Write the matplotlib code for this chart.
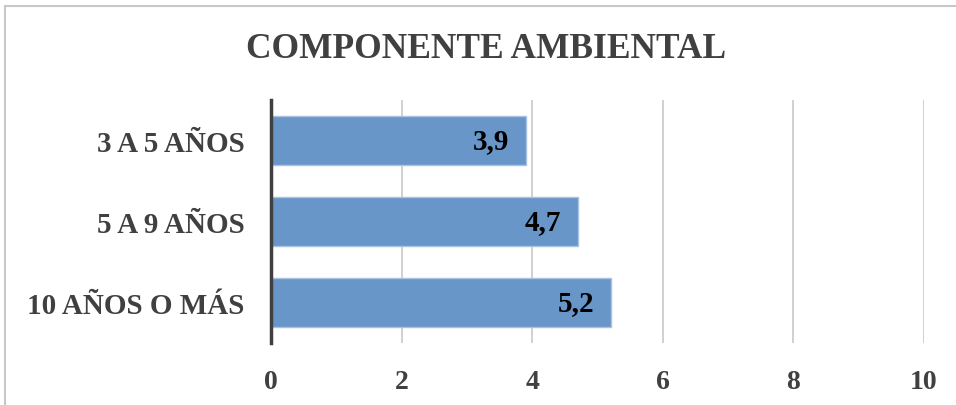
import matplotlib.pyplot as plt
from matplotlib.patches import Rectangle

categories = ["3 A 5 AÑOS", "5 A 9 AÑOS", "10 AÑOS O MÁS"]
values = [3.9, 4.7, 5.2]
value_labels = ["3,9", "4,7", "5,2"]
xticks = [0, 2, 4, 6, 8, 10]

plt.rcParams["font.family"] = ["Liberation Serif", "DejaVu Serif"]
plt.rcParams["font.weight"] = "bold"

fig = plt.figure(figsize=(9.56, 4.06), dpi=100)
ax = fig.add_axes([0.2835, 0.153, 0.683, 0.598])

y = list(range(len(categories)))
ax.barh(y, values, height=0.6, color="#6996C8", edgecolor="#a9c2e2", linewidth=1, zorder=3)
for yi, v, lab in zip(y, values, value_labels):
    ax.annotate(lab, (v, yi), xytext=(-12, 0), textcoords="offset points",
                ha="right", va="center", fontsize=21, fontweight="bold", color="black", zorder=4)

ax.set_xlim(0, 10)
ax.set_ylim(2.5, -0.5)
ax.set_xticks(xticks)
ax.set_xticklabels([str(t) for t in xticks], fontsize=20, fontweight="bold", color="#404040")
ax.set_yticks(y)
ax.set_yticklabels(categories, fontsize=21, fontweight="bold", color="#404040")
ax.tick_params(axis="both", length=0)
ax.tick_params(axis="x", pad=19)
ax.tick_params(axis="y", pad=19)
ax.grid(axis="x", color="#c8c8c8", lw=1.2, zorder=0)
for s in ["top", "right", "bottom"]:
    ax.spines[s].set_visible(False)
ax.spines["left"].set_color("#404040")
ax.spines["left"].set_linewidth(2.5)
ax.spines["left"].set_zorder(5)

fig.text(0.508, 0.877, "COMPONENTE AMBIENTAL", ha="center", va="center",
         fontsize=25.5, fontweight="bold", color="#404040")

fig.patches.append(Rectangle((0.005, -0.05), 1.2, 1.033, transform=fig.transFigure,
                             fill=False, edgecolor="#c8c8c8", lw=1.5))

fig.savefig("out.png", dpi=100)
